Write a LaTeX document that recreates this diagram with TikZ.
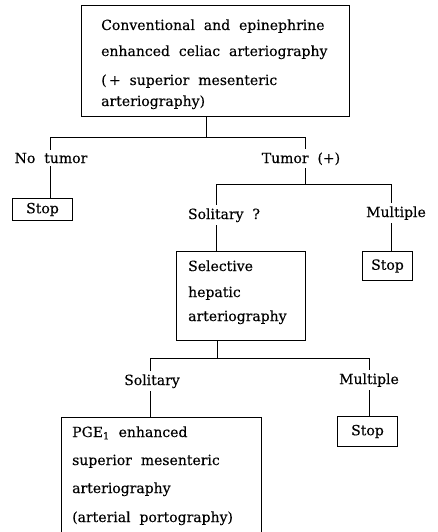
\documentclass[tikz,border=0pt]{standalone}
\usepackage{fontspec}
\setmainfont{DejaVu Serif}[WordSpace=2, FakeBold=0.3]
\begin{document}
\begin{tikzpicture}[x=1pt,y=-1pt,
  every node/.style={font=\fontsize{14}{16}\selectfont, inner sep=0pt},
  box/.style={draw, line width=1pt, anchor=north west},
  stopbox/.style={box, align=center},
  line/.style={draw, line width=1pt},
  txt/.style={anchor=base west},
  lbl/.style={anchor=base, fill=white, inner xsep=1pt, inner ysep=3pt}]
\useasboundingbox (0,0) rectangle (437,532);

% boxes
\node[box, minimum width=268pt, minimum height=111pt] (top) at (81,5) {};
\node[stopbox, minimum width=60pt, minimum height=22pt] (stopA) at (12,198) {Stop};
\node[box, minimum width=129pt, minimum height=89pt] (sel) at (176,251) {};
\node[stopbox, minimum width=50pt, minimum height=29pt] (stopB) at (362,251) {Stop};
\node[box, minimum width=200pt, minimum height=125pt] (pge) at (61,417) {};
\node[stopbox, minimum width=60pt, minimum height=30pt] (stopC) at (337,416) {Stop};

% box texts
\node[txt] (top1) at (101,30) {Conventional and epinephrine};
\node[txt] (top2) at (101,56) {enhanced celiac arteriography};
\node[txt] (top3) at (101,85) {(\,+ superior mesenteric};
\node[txt] (top4) at (101,106) {arteriography)};
\node[txt] (sel1) at (188,271) {Selective};
\node[txt] (sel2) at (188,297) {hepatic};
\node[txt] (sel3) at (188,321) {arteriography};
\node[txt] (pge1) at (72,437) {PGE\textsubscript{1} enhanced};
\node[txt] (pge2) at (72,465) {superior mesenteric};
\node[txt] (pge3) at (72,493) {arteriography};
\node[txt] (pge4) at (72,522) {(arterial portography)};

% branch points
\coordinate (a0) at (206,137);
\coordinate (aL) at (50,137);
\coordinate (aR) at (305,137);
\coordinate (b0) at (305,184);
\coordinate (bL) at (216,184);
\coordinate (bR) at (391,184);
\coordinate (c0) at (217,358);
\coordinate (cL) at (150,358);
\coordinate (cR) at (369,358);

% connectors
\path[line] (a0 |- top.south) -- (a0);
\path[line] (aL) -- (aR);
\path[line] (aL) -- (aL |- stopA.north);
\path[line] (aR) -- (b0);
\path[line] (bL) -- (bR);
\path[line] (bL) -- (bL |- sel.north);
\path[line] (bR) -- (bR |- stopB.north);
\path[line] (c0 |- sel.south) -- (c0);
\path[line] (cL) -- (cR);
\path[line] (cL) -- (cL |- pge.north);
\path[line] (cR) -- (cR |- stopC.north);

% branch labels
\node[lbl] (notumor) at (51,163) {No tumor};
\node[lbl] (tumor) at (301,163) {Tumor (+)};
\node[lbl] (solq) at (224,219) {Solitary ?};
\node[lbl] (multA) at (396,217) {Multiple};
\node[lbl] (sol) at (152,385) {Solitary};
\node[lbl] (multB) at (369,384) {Multiple};
\end{tikzpicture}
\end{document}
